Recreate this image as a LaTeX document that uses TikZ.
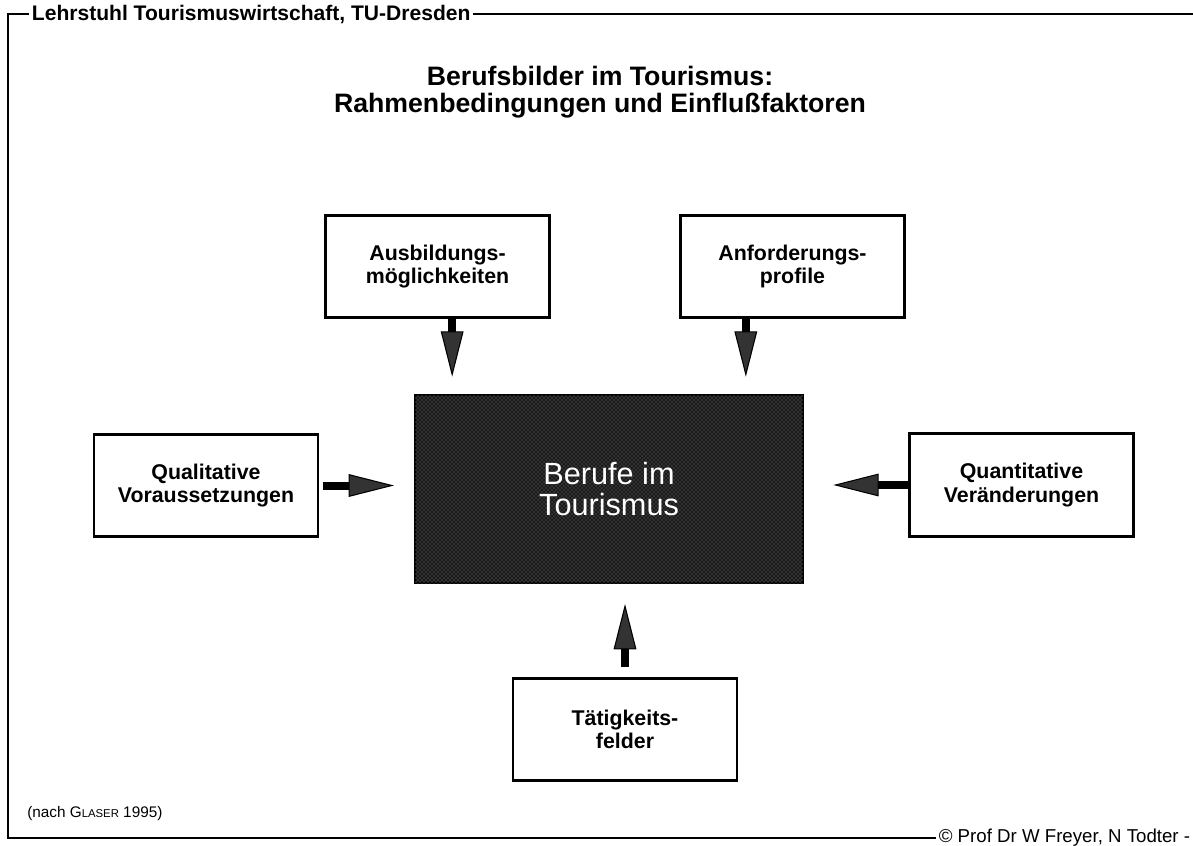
\documentclass[tikz,border=0pt]{standalone}
\usepackage{fontspec}
\setmainfont{Liberation Sans}
\usepackage{tikz}
\usetikzlibrary{patterns}
\usetikzlibrary{shapes,positioning,calc}
\usetikzlibrary{arrows.meta}
\tikzstyle{feld} = [rectangle, minimum width=168pt, minimum height=77pt, text centered, align=center, draw=black, line width=2.2pt, fill=white, font=\bfseries\fontsize{16}{17.5}\selectfont]
\tikzstyle{kern} = [rectangle, minimum width=291pt, minimum height=141pt, align=center, draw=black, line width=1.5pt, fill=black!90, postaction={pattern=crosshatch dots, pattern color=black!45}, text=white, font=\fontsize{23}{23}\selectfont]
\tikzstyle{pfeil} = [line width=6pt, -{Triangle[length=34pt, width=17pt, line width=0.8pt, fill=black!80]}]
\tikzstyle{rahmen} = [line width=1.5pt]

\begin{document}
\begin{tikzpicture}[x=0.75pt, y=-0.75pt]
						\useasboundingbox (0,0) rectangle (1193,846);
						\node[anchor=west, inner sep=2pt, font=\bfseries\fontsize{15.8}{15.8}\selectfont] (kopf) at (29,14) {Lehrstuhl Tourismuswirtschaft, TU-Dresden};
						\node[anchor=east, inner sep=2pt, font=\fontsize{14}{14}\selectfont] (fuss) at (1193,838) {\textcopyright{} Prof Dr W Freyer, N Todter -};
						\node[anchor=west, inner sep=0pt, font=\fontsize{11.5}{11.5}\selectfont] (quelle) at (27,814) {(nach G{\fontsize{8.5}{8.5}\selectfont LASER} 1995)};
						\draw[rahmen] (kopf.west) -- (8,14) -- (8,838) -- (fuss.west);
						\draw[rahmen] (kopf.east) -- (1193,14);
						\node[align=center, font=\bfseries\fontsize{20}{20.5}\selectfont] (titel) at (600,92) {Berufsbilder im Tourismus:\\Rahmenbedingungen und Einflußfaktoren};
						\node (beruf) at (609,489) [kern] {Berufe im\\Tourismus};
						\node (ausb) at (437.5,266.5) [feld] {Ausbildungs-\\möglichkeiten};
						\node (anf) at (792.5,266.5) [feld] {Anforderungs-\\profile};
						\node (qual) at (206,485.5) [feld] {Qualitative\\Voraussetzungen};
						\node (quan) at (1021.5,485) [feld] {Quantitative\\Veränderungen};
						\node (taet) at (625,729.5) [feld] {Tätigkeits-\\felder};
						\draw[pfeil, shorten <=3pt, shorten >=15pt] (qual.east) -- (qual.east -| beruf.west);
						\draw[pfeil, shorten >=22pt] (quan.west) -- (quan.west -| beruf.east);
						\draw[pfeil, shorten >=13pt] ([xshift=11pt]ausb.south) -- ([xshift=11pt]ausb.south |- beruf.north);
						\draw[pfeil, shorten >=13pt] ([xshift=-35pt]anf.south) -- ([xshift=-35pt]anf.south |- beruf.north);
						\draw[pfeil, shorten <=7pt, shorten >=15pt] (taet.north) -- (taet.north |- beruf.south);
					\end{tikzpicture}
\end{document}
